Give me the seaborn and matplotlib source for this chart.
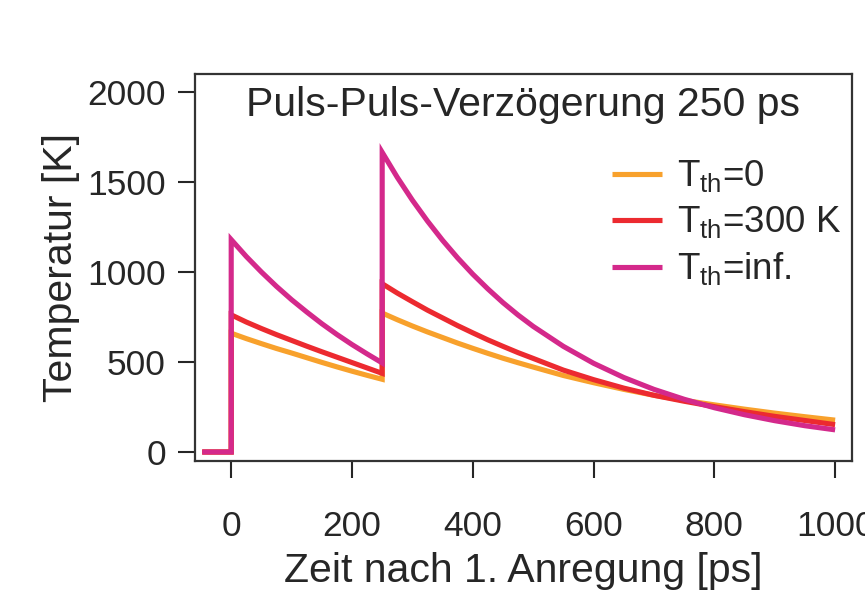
import matplotlib
matplotlib.use("Agg")
import matplotlib.pyplot as plt
import pandas as pd
import seaborn as sns

# Time axis in ps; the duplicated 0 and 250 entries mark the two laser pulses
time_ps = [-48, 0, 0, 25, 50, 75, 100, 125, 150, 175, 200, 225, 250,
           250, 275, 300, 325, 350, 375, 400, 425, 450, 475, 500,
           550, 600, 650, 700, 750, 800, 850, 900, 950, 1000]

# Electron temperature [K] for the three thermalisation cases
temp_th_0 = [0, 0, 660, 630, 602, 575, 550, 524, 498, 473, 449, 426, 404,
             772, 735, 700, 667, 636, 605, 576, 548, 521, 496, 472,
             425, 385, 348, 315, 287, 262, 238, 216, 196, 177]
temp_th_300 = [0, 0, 762, 722, 686, 652, 620, 588, 557, 527, 497, 467, 437,
               935, 883, 835, 788, 745, 702, 662, 623, 587, 552, 520,
               455, 402, 355, 315, 282, 252, 224, 198, 175, 152]
temp_th_inf = [0, 0, 1180, 1086, 1000, 920, 846, 778, 713, 653, 597, 545, 495,
               1665, 1526, 1399, 1283, 1176, 1078, 988, 906, 830, 761, 698,
               587, 493, 414, 348, 293, 246, 207, 174, 146, 123]

series_labels = [r"T$_\mathregular{th}$=0",
                 r"T$_\mathregular{th}$=300 K",
                 r"T$_\mathregular{th}$=inf."]
series_colors = ["#F8A12C", "#EC2A30", "#D4298B"]

x_ticks = [0, 200, 400, 600, 800, 1000]
y_ticks = [0, 500, 1000, 1500, 2000]

frames = []
for label, values in zip(series_labels, [temp_th_0, temp_th_300, temp_th_inf]):
    frames.append(pd.DataFrame({"t": time_ps, "T": values, "series": label}))
df = pd.concat(frames, ignore_index=True)

sns.set_style("ticks")
ink = "#262626"
plt.rcParams.update({
    "font.family": ["Liberation Sans", "DejaVu Sans"],
    "mathtext.fontset": "custom",
    "mathtext.rm": "Liberation Sans",
    "text.color": ink,
    "axes.labelcolor": ink,
    "xtick.color": ink,
    "ytick.color": ink,
    "axes.edgecolor": "#333333",
    "lines.solid_joinstyle": "miter",
    "lines.solid_capstyle": "butt",
})

fig = plt.figure(figsize=(8.65, 5.93), dpi=100)
ax = fig.add_axes([0.2254, 0.2226, 0.7596, 0.6526])

sns.lineplot(data=df, x="t", y="T", hue="series", hue_order=series_labels,
             palette=series_colors, estimator=None, sort=False,
             linewidth=3.7, ax=ax)

ax.set_xlim(-60, 1028)
ax.set_ylim(-50, 2100)
ax.set_xticks(x_ticks)
ax.set_yticks(y_ticks)
ax.tick_params(axis="both", direction="out", length=12, width=1.5,
               labelsize=25.5)
ax.tick_params(axis="x", pad=23)
ax.tick_params(axis="y", pad=9)
for sp in ax.spines.values():
    sp.set_visible(True)
    sp.set_linewidth(1.6)

ax.set_xlabel("Zeit nach 1. Anregung [ps]", fontsize=29.5, labelpad=7)
ax.set_ylabel("Temperatur [K]", fontsize=29.5, labelpad=5)

ax.text(0.5, 0.968, "Puls-Puls-Verzögerung 250 ps", transform=ax.transAxes,
        ha="center", va="top", fontsize=29.5)

handles, labels = ax.get_legend_handles_labels()
ax.legend(handles, labels, loc="upper left", bbox_to_anchor=(0.612, 0.82),
          frameon=False, fontsize=26.5, handlelength=1.37, handletextpad=0.4,
          labelspacing=0.27, borderaxespad=0.0)

fig.savefig("out.png", dpi=100)
